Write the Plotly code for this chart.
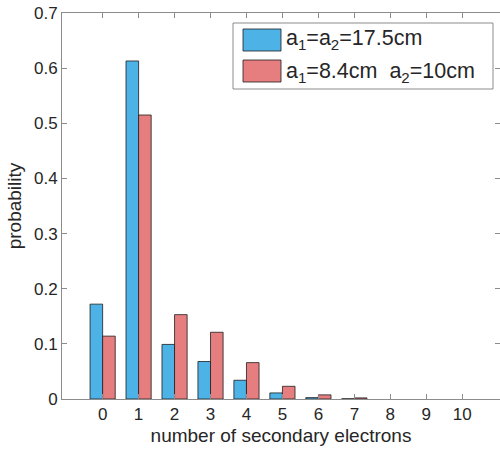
import plotly.graph_objects as go

categories = list(range(11))
series_a = [0.172, 0.613, 0.099, 0.068, 0.034, 0.011, 0.0025, 0.0004, 0.0, 0.0, 0.0]
series_b = [0.114, 0.515, 0.153, 0.121, 0.066, 0.023, 0.0075, 0.002, 0.0, 0.0, 0.0]
tick_vals_y = [0, 0.1, 0.2, 0.3, 0.4, 0.5, 0.6, 0.7]
tick_text_y = ["0", "0.1", "0.2", "0.3", "0.4", "0.5", "0.6", "0.7"]
label_a = "a<sub>1</sub>=a<sub>2</sub>=17.5cm"
label_b = "a<sub>1</sub>=8.4cm  a<sub>2</sub>=10cm"

BLUE = "#4DB2E6"
RED = "#E67E80"
EDGE = "rgba(30,30,30,0.8)"
FONT = "Liberation Sans, Arial, sans-serif"
TXT = "#262626"
AX = "#8c8c8c"

def edge_widths(vals):
    return [1 if v > 0 else 0 for v in vals]

fig = go.Figure()
fig.add_trace(go.Bar(x=categories, y=series_a,
                     marker=dict(color=BLUE, line=dict(color=EDGE, width=edge_widths(series_a))),
                     showlegend=False))
fig.add_trace(go.Bar(x=categories, y=series_b,
                     marker=dict(color=RED, line=dict(color=EDGE, width=edge_widths(series_b))),
                     showlegend=False))

W, H = 500, 450
L, R, T, B = 62, 0, 13, 51
pw, ph = W - L - R, H - T - B

def px(x):
    return (x - L) / pw

def py(y):
    return (H - B - y) / ph

shapes = [
    dict(type="rect", xref="paper", yref="paper", x0=px(233), x1=px(493), y0=py(89), y1=py(23),
         line=dict(color=AX, width=1), fillcolor="white", layer="above"),
    dict(type="rect", xref="paper", yref="paper", x0=px(243), x1=px(281), y0=py(51), y1=py(29),
         line=dict(color=EDGE, width=1), fillcolor=BLUE, layer="above"),
    dict(type="rect", xref="paper", yref="paper", x0=px(243), x1=px(281), y0=py(82), y1=py(60),
         line=dict(color=EDGE, width=1), fillcolor=RED, layer="above"),
]
annotations = [
    dict(xref="paper", yref="paper", x=px(284), y=py(39), text=label_a, showarrow=False,
         xanchor="left", yanchor="middle", font=dict(family=FONT, size=21.5, color=TXT)),
    dict(xref="paper", yref="paper", x=px(284), y=py(72), text=label_b, showarrow=False,
         xanchor="left", yanchor="middle", font=dict(family=FONT, size=21.5, color=TXT)),
]

fig.update_layout(
    width=W, height=H,
    margin=dict(l=L, r=R, t=T, b=B, pad=0),
    paper_bgcolor="white", plot_bgcolor="white",
    barmode="group", bargap=0.3, bargroupgap=0.0,
    font=dict(family=FONT, color=TXT),
    shapes=shapes, annotations=annotations,
    xaxis=dict(range=[-1.13, 11.05], tickvals=categories, ticktext=[str(c) for c in categories],
               ticks="inside", ticklen=5, tickcolor=AX, showline=True, linecolor=AX, linewidth=1,
               mirror="ticks", showgrid=False, zeroline=False,
               tickfont=dict(family=FONT, size=17, color=TXT),
               title=dict(text="number of secondary electrons", font=dict(family=FONT, size=19, color=TXT), standoff=5)),
    yaxis=dict(range=[0, 0.7], tickvals=tick_vals_y, ticktext=tick_text_y,
               ticks="inside", ticklen=5, tickcolor=AX, showline=True, linecolor=AX, linewidth=1,
               mirror="ticks", showgrid=False, zeroline=False,
               tickfont=dict(family=FONT, size=17, color=TXT),
               title=dict(text="probability", font=dict(family=FONT, size=19, color=TXT), standoff=7)),
)

fig.write_html("out.html")
